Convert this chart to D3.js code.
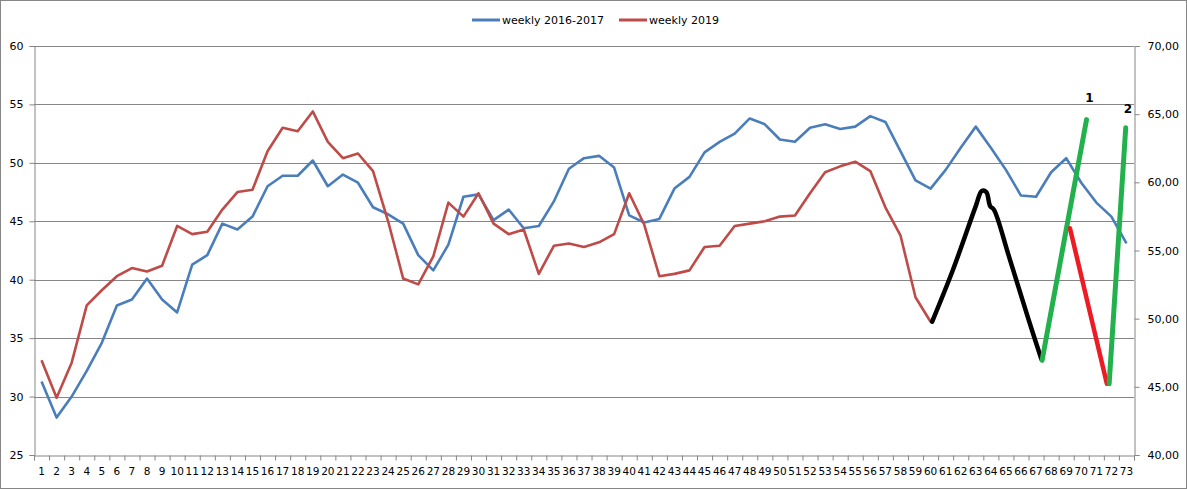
<!DOCTYPE html>
<html><head><meta charset="utf-8">
<script src="https://cdn.jsdelivr.net/npm/d3@7"></script>
<style>
body{margin:0;background:#fff;}
svg text{font-family:"DejaVu Sans",Verdana,sans-serif;fill:#000;}
</style></head><body>
<svg id="c" width="1187" height="490"></svg>
<script>
const weeks = d3.range(1, 74);
const leftTicks = [25, 30, 35, 40, 45, 50, 55, 60];
const rightTicks = [40, 45, 50, 55, 60, 65, 70];
const seriesNames = ["weekly 2016-2017", "weekly 2019"];
const blue = [31.3,28.2,30.0,32.2,34.6,37.8,38.3,40.1,38.3,37.2,41.3,42.1,44.8,44.3,45.4,48.0,48.9,48.9,50.2,48.0,49.0,48.3,46.2,45.6,44.8,42.1,40.8,43.0,47.1,47.3,45.1,46.0,44.4,44.6,46.7,49.5,50.4,50.6,49.6,45.5,44.9,45.2,47.8,48.8,50.9,51.8,52.5,53.8,53.3,52.0,51.8,53.0,53.3,52.9,53.1,54.0,53.5,51.0,48.5,47.8,49.4,51.3,53.1,51.3,49.4,47.2,47.1,49.2,50.4,48.3,46.6,45.4,43.1];
const red = [33.1,29.9,32.9,37.8,39.1,40.3,41.0,40.7,41.2,44.6,43.9,44.1,46.0,47.5,47.7,51.0,53.0,52.7,54.4,51.8,50.4,50.8,49.3,45.0,40.1,39.6,42.0,46.6,45.4,47.4,44.8,43.9,44.3,40.5,42.9,43.1,42.8,43.2,43.9,47.4,44.7,40.3,40.5,40.8,42.8,42.9,44.6,44.8,45.0,45.4,45.5,47.4,49.2,49.7,50.1,49.3,46.2,43.8,38.5,36.4];
// hand-drawn annotation strokes: [week position, value]
const blackStroke = [[60.1,36.4],[61.5,40.9],[63.0,46.3],[63.4,47.6],[63.7,47.5],[63.95,46.3],[64.2,46.0],[65.2,42.0],[66.5,36.6],[67.35,33.2]];
const greenStroke1 = [[67.4,33.1],[70.35,53.7]];
const redStroke = [[69.25,44.4],[71.7,31.1]];
const greenStroke2 = [[71.85,31.1],[72.95,53.0]];
const strokeLabels = [["1",[70.55,55.2]],["2",[73.1,54.3]]];

const svg = d3.select("#c");
const L = 34, R = 1134, T = 46, B = 455;
const xBand = d3.scaleBand().domain(weeks).range([L, R]).padding(0);
const xLin = d3.scaleLinear().domain([0.5, 73.5]).range([L, R]);
const y = d3.scaleLinear().domain([25, 60]).range([B, T]);
const yR = d3.scaleLinear().domain([40, 70]).range([B, T]);

// frame
svg.append("rect").attr("x",0.5).attr("y",0.5).attr("width",1186).attr("height",488)
  .attr("fill","none").attr("stroke","#868686");

// gridlines
svg.append("g").selectAll("line").data(leftTicks.slice(1)).join("line")
  .attr("x1",L).attr("x2",R).attr("y1",d=>Math.round(y(d))+0.5).attr("y2",d=>Math.round(y(d))+0.5)
  .attr("stroke","#868686").attr("stroke-width",1);

// left axis
const gl = svg.append("g").attr("transform",`translate(${L+0.5},0)`)
  .call(d3.axisLeft(y).tickValues(leftTicks).tickSize(5).tickPadding(6).tickFormat(d3.format("d")));
// right axis
const gr = svg.append("g").attr("transform",`translate(${R+0.5},0)`)
  .call(d3.axisRight(yR).tickValues(rightTicks).tickSize(5).tickPadding(8).tickFormat(d=>d3.format(".2f")(d).replace(".",",")));
// bottom axis ticks at boundaries
const gbt = svg.append("g").attr("transform",`translate(0,${B+0.5})`)
  .call(d3.axisBottom(xLin).tickValues(d3.range(0.5,74,1)).tickSize(5).tickFormat(""));
const gb = svg.append("g").attr("transform",`translate(0,${B})`)
  .call(d3.axisBottom(xBand).tickSize(0).tickPadding(13));
[gl,gr,gbt,gb].forEach(g=>{
  g.select(".domain").attr("stroke","#868686");
  g.selectAll(".tick line").attr("stroke","#868686");
  g.selectAll("text").style("font-size","11px").attr("fill","#000");
});
gb.select(".domain").remove();
gb.selectAll("text").style("font-size","10.5px");

const cx = i => xBand(weeks[i]) + xBand.bandwidth()/2;
const line = d3.line().x((d,i)=>cx(i)).y(d=>y(d));
svg.append("path").datum(blue).attr("d",line).attr("fill","none")
  .attr("stroke","#4A7EBB").attr("stroke-width",2.6).attr("stroke-linejoin","round");
svg.append("path").datum(red).attr("d",line).attr("fill","none")
  .attr("stroke","#BE4B48").attr("stroke-width",2.6).attr("stroke-linejoin","round");

const sline = d3.line().x(d=>xLin(d[0])).y(d=>y(d[1])).curve(d3.curveCatmullRom.alpha(0.5));
const strokes = [[blackStroke,"#000",4.5],[greenStroke1,"#22B14C",5],[redStroke,"#ED1C24",4.5],[greenStroke2,"#22B14C",5]];
strokes.forEach(([pts,col,w])=>{
  svg.append("path").datum(pts).attr("d",sline).attr("fill","none").attr("stroke",col)
    .attr("stroke-width",w).attr("stroke-linecap","round").attr("stroke-linejoin","round");
});
svg.append("g").selectAll("text").data(strokeLabels).join("text")
  .attr("x",d=>xLin(d[1][0])).attr("y",d=>y(d[1][1])).attr("text-anchor","middle")
  .style("font-size","12px").style("font-weight","bold").text(d=>d[0]);

// legend
const legend = svg.append("g");
const lg = [[472,seriesNames[0],"#4A7EBB"],[619,seriesNames[1],"#BE4B48"]];
lg.forEach(([lx,name,col])=>{
  legend.append("line").attr("x1",lx).attr("x2",lx+28).attr("y1",20).attr("y2",20)
    .attr("stroke",col).attr("stroke-width",3);
  legend.append("text").attr("x",lx+30).attr("y",24).style("font-size","11px").text(name);
});
</script></body></html>
